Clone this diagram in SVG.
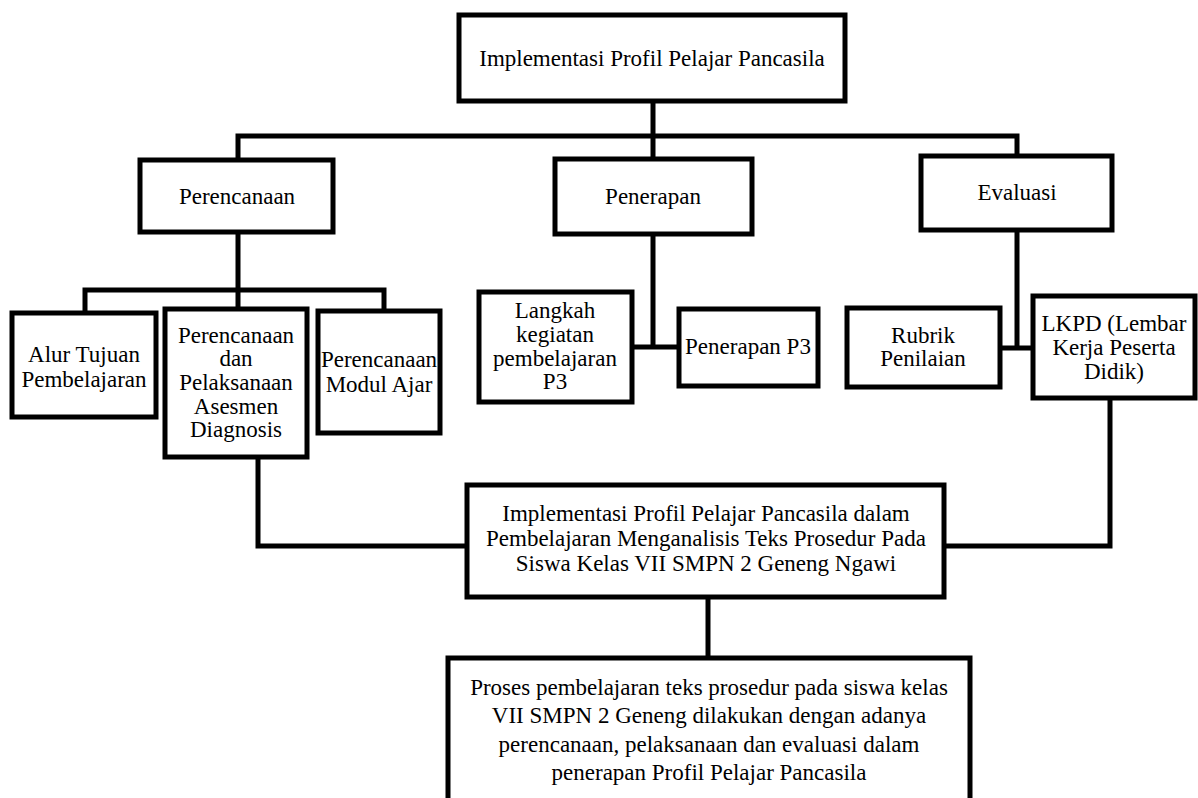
<svg xmlns="http://www.w3.org/2000/svg" width="1198" height="798" viewBox="0 0 1198 798">
<style>
.box{fill:#fff;stroke:#000;stroke-width:5}
.ln{fill:none;stroke:#000;stroke-width:5;stroke-linejoin:miter;stroke-linecap:square}
text{font-family:"Liberation Serif","Times New Roman",serif;font-size:23px;fill:#000;text-anchor:middle}
</style>
<rect width="1198" height="798" fill="#fff"/>
<g id="connectors">
<path class="ln" d="M653 103 V136 M238 136 H1017 M238 136 V160 M653 136 V159 M1017 136 V156"/>
<path class="ln" d="M238 232 V290 M85 290 H384 M85 290 V313 M238 290 V309 M384 290 V311"/>
<path class="ln" d="M653 234 V347 M632 347 H679"/>
<path class="ln" d="M1017 230 V348 M1000 348 H1033"/>
<path class="ln" d="M258 457 V546 H467"/>
<path class="ln" d="M1110 398 V546 H944"/>
<path class="ln" d="M708 597 V658"/>
</g>
<g id="n-top"><rect class="box" x="459" y="15" width="386" height="86"/><text x="652" y="66">Implementasi Profil Pelajar Pancasila</text></g>
<g id="n-perencanaan"><rect class="box" x="140" y="160" width="193" height="72"/><text x="237" y="204">Perencanaan</text></g>
<g id="n-penerapan"><rect class="box" x="555" y="159" width="197" height="75"/><text x="653" y="204">Penerapan</text></g>
<g id="n-evaluasi"><rect class="box" x="921" y="156" width="191" height="74"/><text x="1017" y="200">Evaluasi</text></g>
<g id="n-alur"><rect class="box" x="12" y="313" width="144" height="104"/><text x="84" y="362">Alur Tujuan</text><text x="84" y="387">Pembelajaran</text></g>
<g id="n-asesmen"><rect class="box" x="165" y="309" width="142" height="148"/><text x="236" y="343">Perencanaan</text><text x="236" y="366">dan</text><text x="236" y="390">Pelaksanaan</text><text x="236" y="414">Asesmen</text><text x="236" y="437">Diagnosis</text></g>
<g id="n-modul"><rect class="box" x="318" y="311" width="122" height="122"/><text x="379" y="367">Perencanaan</text><text x="379" y="392">Modul Ajar</text></g>
<g id="n-langkah"><rect class="box" x="479" y="292" width="153" height="110"/><text x="555" y="318">Langkah</text><text x="555" y="342">kegiatan</text><text x="555" y="366">pembelajaran</text><text x="555" y="389">P3</text></g>
<g id="n-p3"><rect class="box" x="679" y="309" width="139" height="77"/><text x="748" y="354">Penerapan P3</text></g>
<g id="n-rubrik"><rect class="box" x="847" y="308" width="153" height="79"/><text x="923" y="343">Rubrik</text><text x="923" y="366">Penilaian</text></g>
<g id="n-lkpd"><rect class="box" x="1033" y="296" width="162" height="102"/><text x="1114" y="331">LKPD (Lembar</text><text x="1114" y="355">Kerja Peserta</text><text x="1114" y="379">Didik)</text></g>
<g id="n-mid"><rect class="box" x="467" y="485" width="477" height="112"/><text x="706" y="521">Implementasi Profil Pelajar Pancasila dalam</text><text x="706" y="546">Pembelajaran Menganalisis Teks Prosedur Pada</text><text x="706" y="571">Siswa Kelas VII SMPN 2 Geneng Ngawi</text></g>
<g id="n-bottom"><rect class="box" x="448" y="658" width="522" height="160"/><text x="709" y="695">Proses pembelajaran teks prosedur pada siswa kelas</text><text x="709" y="723">VII SMPN 2 Geneng dilakukan dengan adanya</text><text x="709" y="752">perencanaan, pelaksanaan dan evaluasi dalam</text><text x="709" y="780">penerapan Profil Pelajar Pancasila</text></g>
</svg>
